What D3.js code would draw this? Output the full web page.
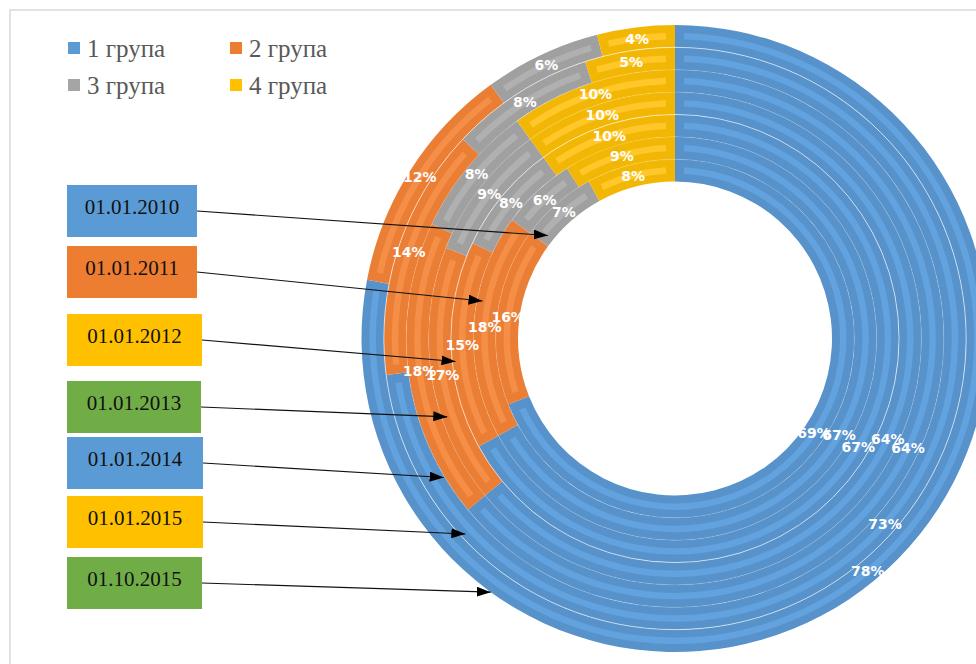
<!DOCTYPE html>
<html>
<head>
<meta charset="utf-8">
<script src="https://cdn.jsdelivr.net/npm/d3@7"></script>
<style>
  body { margin: 0; background: #fff; }
  svg { display: block; }
</style>
</head>
<body>
<svg id="chart" width="976" height="664"></svg>
<script>
// Structure of groups by date, percent (inner ring = earliest date)
const dates  = ["01.01.2010", "01.01.2011", "01.01.2012", "01.01.2013", "01.01.2014", "01.01.2015", "01.10.2015"];
const groups = ["1 група", "2 група", "3 група", "4 група"];
const group1 = [69, 67, 67, 64, 64, 73, 78];
const group2 = [16, 18, 15, 17, 18, 14, 12];
const group3 = [7, 6, 8, 9, 8, 8, 6];
const group4 = [8, 9, 10, 10, 10, 5, 4];

// Styling
const groupColors  = ["#5B9BD5", "#ED7D31", "#A5A5A5", "#FFC000"];
const ringBase     = ["#5892CA", "#EA7E35", "#A0A0A0", "#F2B705"];
const ringStripe   = ["#62A2DE", "#F58F47", "#B0B0B0", "#FFC72A"];
const dateColors   = ["#5B9BD5", "#ED7D31", "#FFC000", "#70AD47", "#5B9BD5", "#FFC000", "#70AD47"];

// Callout layout: box tops and widths, pointer angle (deg, clockwise from 12 o'clock)
// and how deep into its ring each pointer reaches (fraction of ring width)
const boxTops       = [185, 246, 314, 381, 437, 496, 557];
const boxWidths     = [130, 130, 135, 134, 136, 136, 135];
const pointerAngles = [309, 281, 264, 251, 239, 227, 216];
const pointerDepth  = [0.3, 0.75, 0.85, 0.75, 1.05, 0.8, 1.0];

const svg = d3.select("#chart");
const cx = 675, cy = 338.5;
const rInner = 157, rOuter = 313.5;

// frame
svg.append("path")
  .attr("d", "M10,664 L10,10 L976,10")
  .attr("fill", "none")
  .attr("stroke", "#D9D9D9")
  .attr("stroke-width", 1.5);

const series = [group1, group2, group3, group4];
const rings = dates.map((d, i) => series.map((s, g) => ({ group: g, value: s[i] })));

const rScale = d3.scaleLinear().domain([0, dates.length]).range([rInner, rOuter]);
const pie = d3.pie().sort(null).value(d => d.value);

const g = svg.append("g").attr("transform", `translate(${cx},${cy})`);

rings.forEach((ring, i) => {
  const r0 = rScale(i), r1 = rScale(i + 1), rm = (r0 + r1) / 2;
  const slices = pie(ring);
  const arc = d3.arc().innerRadius(r0).outerRadius(r1);
  const stripeHalf = 3.2;
  const inset = 9 / rm;
  const stripe = d3.arc().innerRadius(rm - stripeHalf).outerRadius(rm + stripeHalf);
  const labelArc = d3.arc().innerRadius(rm).outerRadius(rm);

  const rg = g.append("g").attr("class", "ring");
  rg.selectAll("path.seg")
    .data(slices)
    .join("path")
    .attr("class", "seg")
    .attr("d", arc)
    .attr("fill", d => ringBase[d.data.group]);

  rg.selectAll("path.stripe")
    .data(slices.filter(d => d.endAngle - d.startAngle > 2 * inset + 0.02))
    .join("path")
    .attr("class", "stripe")
    .attr("d", d => stripe({ startAngle: d.startAngle + inset, endAngle: d.endAngle - inset }))
    .attr("fill", d => ringStripe[d.data.group]);

  // store label positions for drawing on top later
  ring.labels = slices.map(d => ({ pos: labelArc.centroid(d), text: d.data.value + "%" }));
});

// thin ring boundaries
d3.range(1, dates.length).forEach(k => {
  g.append("circle")
    .attr("r", rScale(k))
    .attr("fill", "none")
    .attr("stroke", "#fff")
    .attr("stroke-width", 0.8)
    .attr("stroke-opacity", (k === 3 || k === 6) ? 0.75 : 0.18);
});

// data labels
rings.forEach(ring => {
  g.selectAll(null)
    .data(ring.labels)
    .join("text")
    .attr("x", d => d.pos[0])
    .attr("y", d => d.pos[1])
    .attr("text-anchor", "middle")
    .attr("dominant-baseline", "central")
    .attr("font-family", "DejaVu Sans, Verdana, sans-serif")
    .attr("font-weight", "bold")
    .attr("font-size", 14)
    .attr("fill", "#fff")
    .text(d => d.text);
});

// legend
const legend = svg.append("g").attr("class", "legend");
groups.forEach((name, k) => {
  const col = k % 2, row = Math.floor(k / 2);
  const lx = 68 + col * 162, ly = 42 + row * 37;
  legend.append("rect")
    .attr("x", lx).attr("y", ly).attr("width", 12).attr("height", 12)
    .attr("fill", groupColors[k]);
  legend.append("text")
    .attr("x", lx + 19).attr("y", ly + 15)
    .attr("font-family", "Liberation Serif, Times New Roman, serif")
    .attr("font-size", 25)
    .attr("fill", "#595959")
    .text(name);
});

// arrow head
svg.append("defs").append("marker")
  .attr("id", "arrowhead")
  .attr("markerUnits", "userSpaceOnUse")
  .attr("viewBox", "0 0 14 10")
  .attr("markerWidth", 14).attr("markerHeight", 10)
  .attr("refX", 14).attr("refY", 5)
  .attr("orient", "auto")
  .append("path")
  .attr("d", "M0,0 L14,5 L0,10 Z")
  .attr("fill", "#000");

// date callouts
const callouts = svg.append("g").attr("class", "callouts");
dates.forEach((d, i) => {
  const bx = 67, by = boxTops[i], bw = boxWidths[i], bh = 52;
  callouts.append("rect")
    .attr("x", bx).attr("y", by).attr("width", bw).attr("height", bh)
    .attr("fill", dateColors[i]);
  callouts.append("text")
    .attr("x", bx + bw / 2).attr("y", by + 29)
    .attr("text-anchor", "middle")
    .attr("font-family", "Liberation Serif, Times New Roman, serif")
    .attr("font-size", 21)
    .attr("fill", "#111")
    .text(d);

  const a = pointerAngles[i] * Math.PI / 180;
  const rt = rScale(i + pointerDepth[i]);
  const tx = cx + rt * Math.sin(a), ty = cy - rt * Math.cos(a);
  callouts.append("line")
    .attr("x1", bx + bw).attr("y1", by + 26)
    .attr("x2", tx).attr("y2", ty)
    .attr("stroke", "#111")
    .attr("stroke-width", 1.1)
    .attr("marker-end", "url(#arrowhead)");
});
</script>
</body>
</html>
